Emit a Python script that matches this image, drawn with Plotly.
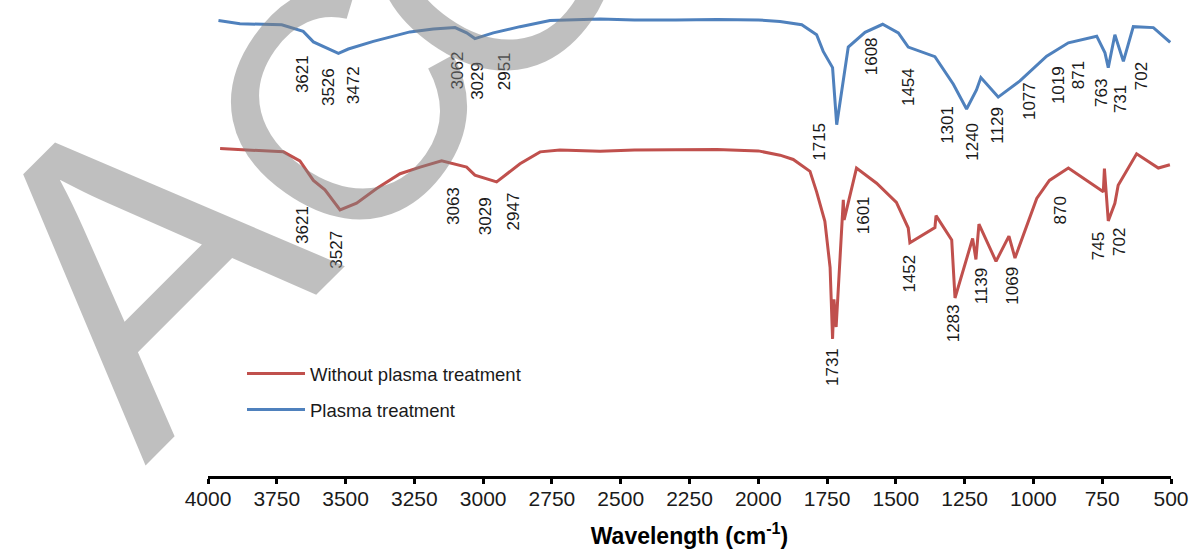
import plotly.graph_objects as go

# ---------------- data ----------------
wn_plasma = [3962, 3884, 3732, 3654, 3617, 3526, 3490, 3399, 3266, 3181, 3102, 3060, 3030,
             2963, 2866, 2757, 2575, 2450, 2300, 2150, 2000, 1921, 1842, 1788, 1764, 1730,
             1715, 1673, 1612, 1548, 1491, 1455, 1358, 1291, 1243, 1207, 1191, 1128, 1049,
             952, 873, 770, 740, 728, 704, 673, 637, 564, 503]
t_plasma = [95.7, 95.0, 94.8, 93.4, 91.2, 88.8, 89.7, 91.3, 93.3, 93.9, 94.2, 93.1, 91.9,
            93.1, 94.4, 95.7, 96.0, 95.8, 95.8, 95.9, 95.8, 95.5, 94.8, 92.7, 89.2, 85.8,
            73.8, 90.1, 93.2, 94.9, 93.1, 90.1, 88.1, 82.3, 77.1, 81.1, 83.7, 79.6, 83.0,
            88.2, 91.0, 92.4, 88.9, 85.8, 92.7, 87.1, 94.4, 94.2, 91.1]

wn_raw = [3956, 3835, 3726, 3666, 3617, 3575, 3520, 3460, 3387, 3302, 3229, 3151, 3060,
          3030, 2951, 2866, 2793, 2721, 2575, 2450, 2300, 2150, 2000, 1921, 1873, 1812,
          1788, 1758, 1739, 1730, 1725, 1717, 1691, 1688, 1643, 1570, 1498, 1455, 1449,
          1358, 1354, 1297, 1285, 1221, 1209, 1198, 1136, 1089, 1067, 988, 942, 873,
          746, 742, 728, 704, 692, 625, 546, 504]
t_raw = [68.8, 68.4, 68.1, 66.2, 62.1, 60.1, 55.9, 57.3, 60.4, 63.5, 64.9, 66.2, 64.9,
         63.2, 61.8, 65.6, 68.1, 68.5, 68.2, 68.5, 68.6, 68.6, 68.3, 67.4, 66.5, 64.0,
         59.7, 53.5, 43.8, 28.8, 37.1, 31.3, 58.0, 53.8, 64.7, 61.5, 57.5, 52.1, 49.0,
         52.2, 54.7, 49.6, 37.4, 49.9, 45.5, 52.9, 45.1, 50.4, 45.8, 58.3, 62.1, 64.7,
         59.7, 64.6, 53.6, 57.3, 61.1, 67.7, 64.7, 65.4]

# peak labels (text, wavenumber position, transmittance position)
lab_plasma_text = ["3621", "3526", "3472", "3062", "3029", "2951", "1715", "1608", "1454",
                   "1301", "1240", "1129", "1077", "1019", "871", "763", "731", "702"]
lab_plasma_x = [3659, 3564, 3473, 3095, 3019, 2921, 1776, 1588, 1456,
                1310, 1220, 1129, 1012, 911, 838, 752, 685, 607]
lab_plasma_y = [84.4, 81.7, 82.1, 85.2, 83.0, 85.0, 70.2, 88.1, 81.7,
                73.8, 70.2, 73.8, 78.8, 82.1, 84.2, 80.4, 79.2, 83.9]

lab_raw_text = ["3621", "3527", "3063", "3029", "2947", "1731", "1601", "1452", "1283",
                "1139", "1069", "870", "745", "702"]
lab_raw_x = [3659, 3532, 3110, 2993, 2891, 1732, 1619, 1449, 1292,
             1188, 1074, 903, 765, 685]
lab_raw_y = [52.7, 47.5, 56.7, 54.6, 55.6, 22.9, 54.8, 42.5, 32.1,
             40.0, 40.0, 55.8, 48.3, 49.2]

tick_vals = [4000, 3750, 3500, 3250, 3000, 2750, 2500, 2250, 2000, 1750, 1500, 1250, 1000, 750, 500]

RED = "#C0504D"
BLUE = "#4F81BD"
FONT = "Liberation Sans, Arial, sans-serif"

# layout geometry (pixels)
W, H = 1191, 549
ML, MR, MT, MB = 208, 20, 0, 69
PW, PH = W - ML - MR, H - MT - MB


def px2paper(px, py):
    return (px - ML) / PW, (H - MB - py) / PH


fig = go.Figure()
fig.add_trace(go.Scatter(x=wn_raw, y=t_raw, mode="lines", name="Without plasma treatment",
                         line=dict(color=RED, width=3), legendgroup="a"))
fig.add_trace(go.Scatter(x=wn_plasma, y=t_plasma, mode="lines", name="Plasma treatment",
                         line=dict(color=BLUE, width=3), legendgroup="b"))

annotations = []
for txt, x, y in list(zip(lab_plasma_text, lab_plasma_x, lab_plasma_y)) + \
        list(zip(lab_raw_text, lab_raw_x, lab_raw_y)):
    annotations.append(dict(x=x, y=y, xref="x", yref="y", text=txt, showarrow=False,
                            textangle=-90, xanchor="center", yanchor="middle",
                            font=dict(family=FONT, size=17, color="#1a1a1a")))

# "ACCEPTED" watermark (only "ACC" visible)
for letter, cx, cy, size, ang in [("A", 142, 263, 425, -45), ("C", 344, 110, 330, -55),
                                  ("C", 490, -40, 330, -55)]:
    xp, yp = px2paper(cx, cy)
    annotations.append(dict(x=xp, y=yp, xref="paper", yref="paper", text=letter,
                            showarrow=False, textangle=ang, xanchor="center", yanchor="middle",
                            font=dict(family=FONT, size=size, color="rgba(128,128,128,0.5)")))

lx, ly = px2paper(242, 358)
fig.update_layout(
    width=W, height=H,
    margin=dict(l=ML, r=MR, t=MT, b=MB),
    paper_bgcolor="white", plot_bgcolor="white",
    font=dict(family=FONT, color="black"),
    showlegend=True,
    legend=dict(x=lx, y=ly, xanchor="left", yanchor="top",
                font=dict(family=FONT, size=18.5, color="#1a1a1a"),
                bgcolor="rgba(0,0,0,0)", tracegroupgap=9, itemwidth=58),
    xaxis=dict(range=[4000, 500], tickvals=tick_vals, ticktext=[str(v) for v in tick_vals],
               showline=True, linewidth=3, linecolor="black", ticks="outside",
               ticklen=5, tickwidth=2.5, tickcolor="black", showgrid=False, zeroline=False,
               ticklabelstandoff=-3,
               tickfont=dict(family=FONT, size=21, color="#1a1a1a"),
               title=dict(text="<b>Wavelength (cm<sup>-1</sup>)</b>",
                          font=dict(family=FONT, size=23, color="black"), standoff=23)),
    yaxis=dict(range=[0, 100], visible=False),
    annotations=annotations,
)

fig.write_html("out.html", config={"displayModeBar": False},
               post_script="document.body.style.margin='0';document.body.style.overflow='hidden';")
